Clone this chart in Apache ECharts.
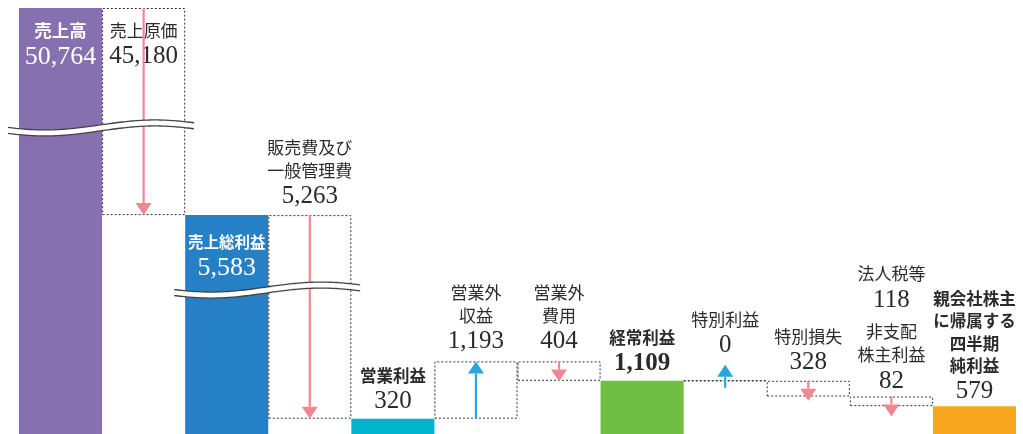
<!DOCTYPE html>
<html>
<head>
<meta charset="utf-8">
<script src="https://cdn.jsdelivr.net/npm/echarts@6/dist/echarts.min.js"></script>
<style>
html, body { margin: 0; padding: 0; background: #fff; }
#chart { width: 1023px; height: 434px; }
</style>
</head>
<body>
<div id="chart"></div>
<script>
// 項目と金額（百万円）
var items = ['売上高', '売上原価', '売上総利益', '販売費及び一般管理費', '営業利益', '営業外収益',
	'営業外費用', '経常利益', '特別利益', '特別損失', '法人税等・非支配株主利益', '親会社株主に帰属する四半期純利益'];
var kinds = ['total', 'down', 'total', 'down', 'total', 'up', 'down', 'total', 'up', 'down', 'down', 'total'];
var taxItems = [118, 82]; // 法人税等, 非支配株主利益
var amounts = [50764, 45180, 5583, 5263, 320, 1193, 404, 1109, 0, 328, taxItems[0] + taxItems[1], 579];
// 波線で省略する区間
var breakRanges = [[3000, 4021], [7400, 48264]];
var breakCols = [[2, 3], [0, 1]];

function fmt(v) {
	return String(v).replace(/\B(?=(\d{3})+(?!\d))/g, ',');
}

// 省略区間を除いた軸上の値
function toAxis(v) {
	var d = v;
	breakRanges.forEach(function (b) {
		if (v > b[1]) d -= b[1] - b[0];
		else if (v > b[0]) d -= v - b[0];
	});
	return d;
}

var lows = [], highs = [];
var level = 0;
for (var i = 0; i < items.length; i++) {
	var a = amounts[i];
	if (kinds[i] == 'total') { lows.push(0); highs.push(a); level = a; }
	else if (kinds[i] == 'up') { lows.push(level); highs.push(level + a); level = level + a; }
	else { highs.push(level); lows.push(level - a); level = level - a; }
}

var labelText = [
	'{wb|売上高}\n{wn|' + fmt(amounts[0]) + '}',
	'{j|売上原価}\n{n|' + fmt(amounts[1]) + '}',
	'{wb2|売上総利益}\n{wn|' + fmt(amounts[2]) + '}',
	'{j|販売費及び}\n{j|一般管理費}\n{n|' + fmt(amounts[3]) + '}',
	'{jb|営業利益}\n{n|' + fmt(amounts[4]) + '}',
	'{j|営業外}\n{j|収益}\n{n|' + fmt(amounts[5]) + '}',
	'{j|営業外}\n{j|費用}\n{n|' + fmt(amounts[6]) + '}',
	'{jb|経常利益}\n{nb|' + fmt(amounts[7]) + '}',
	'{j|特別利益}\n{n|' + fmt(amounts[8]) + '}',
	'{j|特別損失}\n{n|' + fmt(amounts[9]) + '}',
	'{j|法人税等}\n{n|' + fmt(taxItems[0]) + '}\n{gap| }\n{j|非支配}\n{j|株主利益}\n{n|' + fmt(taxItems[1]) + '}',
	'{jb|親会社株主}\n{jb|に帰属する}\n{jb|四半期}\n{jb|純利益}\n{n|' + fmt(amounts[11]) + '}'
];

var barColors = ['#8770af', null, '#2680c6', null, '#00b4cd', null, null, '#70be44', null, null, null, '#f7a61e'];
var labelPos = ['insideTop', 'insideTop', 'insideTop', 'top', 'top', 'top', 'top', 'top', 'top', 'top', 'top', 'top'];
var labelDist = [11, 11, 16, 4, 3, 5, 5, 3, 20, 4, 1, 0];

var CJK = '"Noto Sans CJK JP", sans-serif';
var SERIF = '"Liberation Serif", "DejaVu Serif", serif';
var TXT = '#2b2b2b';
var rich = {
	j: { fontFamily: CJK, fontSize: 17, lineHeight: 23, color: TXT },
	jb: { fontFamily: CJK, fontSize: 16.5, fontWeight: 'bold', lineHeight: 22.5, color: TXT },
	n: { fontFamily: SERIF, fontSize: 25, lineHeight: 29, color: TXT },
	nb: { fontFamily: SERIF, fontSize: 25, fontWeight: 'bold', lineHeight: 29, color: TXT },
	wb: { fontFamily: CJK, fontSize: 17.5, fontWeight: 'bold', lineHeight: 23, color: '#fff' },
	wb2: { fontFamily: CJK, fontSize: 15.5, fontWeight: 'bold', lineHeight: 22, color: '#fff' },
	wn: { fontFamily: SERIF, fontSize: 26, lineHeight: 30, color: '#fff' },
	gap: { fontSize: 4, lineHeight: 6 }
};

var baseData = [], mainData = [], arrowData = [];
for (var i = 0; i < items.length; i++) {
	var lo = toAxis(lows[i]), hi = toAxis(highs[i]);
	baseData.push(lo);
	var box = kinds[i] != 'total';
	mainData.push({
		name: items[i],
		value: hi - lo,
		itemStyle: box ? { color: 'rgba(0,0,0,0)', borderColor: '#333', borderWidth: 1, borderType: [2, 2] }
			: { color: barColors[i] },
		label: {
			show: true,
			position: labelPos[i],
			distance: labelDist[i],
			align: 'center',
			formatter: labelText[i],
			rich: rich
		}
	});
	if (kinds[i] == 'up') arrowData.push([i, lo, hi]);
	if (kinds[i] == 'down') arrowData.push([i, hi, lo]);
}

var breakData = breakRanges.map(function (b, k) {
	return [breakCols[k][0], breakCols[k][1], toAxis(b[0])];
});

function renderArrow(params, api) {
	var i = api.value(0);
	var p0 = api.coord([i, api.value(1)]);
	var p1 = api.coord([i, api.value(2)]);
	var x = p0[0], y0 = p0[1], y1 = p1[1];
	if (Math.abs(y1 - y0) < 0.5) { y0 = y0 + 7; y1 = y1 - 16; }
	else if (y1 > y0 && y1 - y0 < 20) { y1 = y0 + 20; }
	var dir = y1 > y0 ? 1 : -1;
	var color = dir > 0 ? '#f08791' : '#29a5e1';
	var hh = 12, hw = 8;
	return {
		type: 'group',
		children: [
			{ type: 'line', shape: { x1: x, y1: y0, x2: x, y2: y1 - dir * hh }, style: { stroke: color, lineWidth: 2.2 } },
			{ type: 'polygon', shape: { points: [[x - hw, y1 - dir * hh], [x + hw, y1 - dir * hh], [x, y1]] }, style: { fill: color } }
		]
	};
}

function renderBreak(params, api) {
	var v = api.value(2);
	var bw = api.size([1, 0])[0];
	var xs = api.coord([api.value(0), v])[0] - bw / 2 - 11;
	var xe = api.coord([api.value(1), v])[0] + bw / 2 + 9;
	var yc = api.coord([api.value(0), v])[1];
	var top = [], bot = [];
	for (var x = xs; x <= xe + 0.1; x += 2) {
		var yy = yc + 5 * Math.sin(2 * Math.PI * (x - xs + 18) / 220);
		top.push([x, yy - 3]);
		bot.push([x, yy + 3]);
	}
	return {
		type: 'group',
		children: [
			{ type: 'polygon', shape: { points: top.concat(bot.slice().reverse()) }, style: { fill: '#fff' } },
			{ type: 'polyline', shape: { points: top }, style: { stroke: '#444', lineWidth: 1.3, fill: null } },
			{ type: 'polyline', shape: { points: bot }, style: { stroke: '#444', lineWidth: 1.3, fill: null } }
		]
	};
}

var chart = echarts.init(document.getElementById('chart'));
var option = {
	backgroundColor: '#fff',
	animation: false,
	grid: { left: 19, right: 7, top: 8, bottom: 0 },
	xAxis: { type: 'category', data: items, show: false },
	yAxis: { type: 'value', min: 0, max: toAxis(amounts[0]), show: false },
	series: [
		{
			name: 'base', type: 'bar', stack: 'w', barWidth: '100%', silent: true,
			itemStyle: { color: 'rgba(0,0,0,0)' }, data: baseData
		},
		{
			name: 'value', type: 'bar', stack: 'w', barWidth: '100%', data: mainData, z: 2
		},
		{
			name: 'arrow', type: 'custom', renderItem: renderArrow, data: arrowData, z: 3,
			encode: { x: 0, y: [1, 2] }
		},
		{
			name: 'break', type: 'custom', renderItem: renderBreak, data: breakData, z: 5,
			encode: { x: [0, 1], y: 2 }
		}
	]
};
chart.setOption(option);
</script>
</body>
</html>
